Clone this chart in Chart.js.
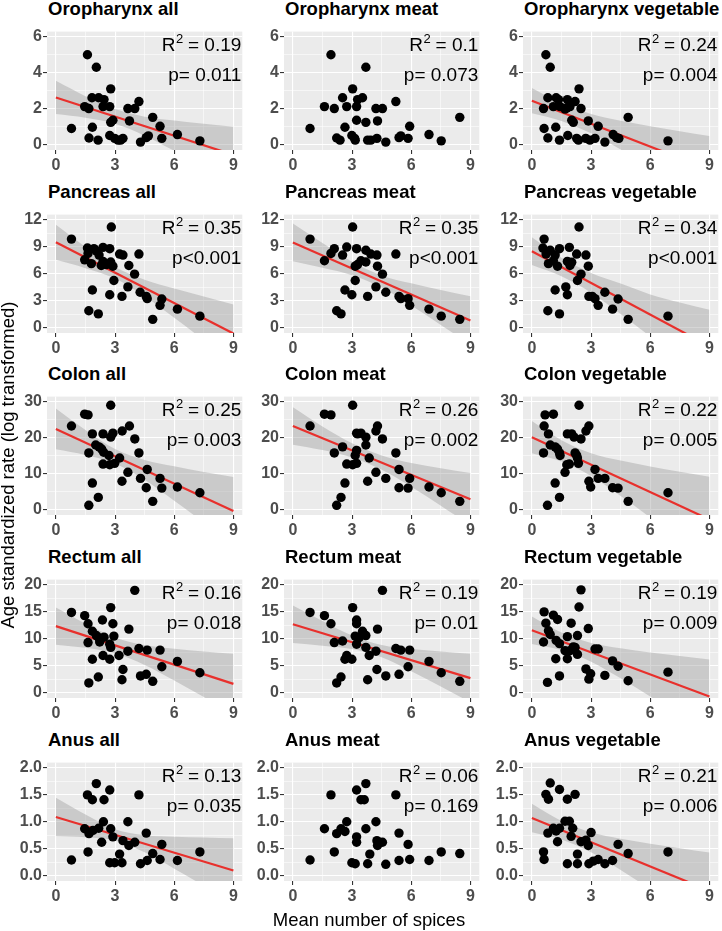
<!DOCTYPE html>
<html><head><meta charset="utf-8">
<script src="https://cdn.jsdelivr.net/npm/chart.js@4.4.0/dist/chart.umd.min.js"></script>
<style>
html,body{margin:0;padding:0;background:#fff;}
#wrap{position:relative;width:722px;height:931px;overflow:hidden;font-family:"Liberation Sans",Arial,sans-serif;}
canvas{position:absolute;}
.ttl{position:absolute;font-weight:bold;font-size:18.5px;line-height:22px;color:#000;white-space:nowrap;}
.axt{position:absolute;font-size:18.5px;line-height:22px;color:#000;white-space:nowrap;text-align:center;}
</style></head><body><div id="wrap"></div>
<script>
// ---------- categories / labels ----------
const cancers = ['Oropharynx','Pancreas','Colon','Rectum','Anus'];
const groups = ['all','meat','vegetable'];
const r2Labels = ['0.19','0.1','0.24','0.35','0.35','0.34','0.25','0.26','0.22','0.16','0.19','0.19','0.13','0.06','0.21'];
const pLabels = ['p= 0.011','p= 0.073','p= 0.004','p<0.001','p<0.001','p<0.001','p= 0.003','p= 0.002','p= 0.005','p= 0.018','p= 0.01','p= 0.009','p= 0.035','p= 0.169','p= 0.006'];
const xTitle = 'Mean number of spices';
const yTitle = 'Age standardized rate (log transformed)';

// ---------- tick labels ----------
const xMajor = [0,3,6,9];           const xMinor = [1.5,4.5,7.5];
const yMajorOro = [0,2,4,6];        const yMinorOro = [1,3,5];
const yMajorPanc = [0,3,6,9,12];    const yMinorPanc = [1.5,4.5,7.5,10.5];
const yMajorColon = [0,10,20,30];   const yMinorColon = [5,15,25];
const yMajorRect = [0,5,10,15,20];  const yMinorRect = [2.5,7.5,12.5,17.5];
const yMajorAnus = [0,0.5,1,1.5,2]; const yMinorAnus = [0.25,0.75,1.25,1.75];

// ---------- scatter points [spices, rate] ----------
const oroAll = [[1.60,5.01],[2.05,4.31],[2.78,3.11],[1.83,2.61],[2.17,2.61],[2.44,2.51],[1.46,2.12],[1.67,2.01],[2.39,2.12],[2.73,2.12],[3.65,2.01],[4.00,2.01],[4.21,2.40],[2.89,1.36],[2.78,1.24],[3.73,1.32],[4.91,1.52],[5.28,1.02],[0.79,0.90],[1.85,0.97],[6.16,0.56],[7.30,0.21],[1.68,0.37],[2.14,0.25],[2.73,0.51],[2.98,0.35],[3.15,0.25],[3.28,0.25],[3.40,0.35],[4.29,0.14],[4.58,0.39],[4.69,0.49],[5.37,0.35]];
const oroMeat = [[1.93,5.01],[3.70,4.31],[3.03,3.11],[2.52,2.61],[3.53,2.61],[3.28,2.51],[1.60,2.12],[2.10,2.01],[2.73,2.12],[3.23,2.12],[4.21,2.01],[4.54,2.01],[5.22,2.40],[3.23,1.36],[3.70,1.24],[4.29,1.32],[8.46,1.52],[5.92,1.02],[0.87,0.90],[2.64,0.97],[6.90,0.56],[7.52,0.21],[2.22,0.37],[2.39,0.25],[2.99,0.51],[3.13,0.35],[3.16,0.25],[3.79,0.25],[3.95,0.25],[4.26,0.35],[4.71,0.14],[5.38,0.39],[5.47,0.49],[5.84,0.35]];
const oroVeg = [[0.71,5.01],[0.93,4.31],[2.39,3.11],[0.81,2.61],[1.23,2.61],[1.35,2.51],[1.80,2.51],[2.19,2.40],[0.59,2.01],[1.09,2.12],[1.43,2.12],[1.77,2.05],[1.93,2.12],[1.68,1.98],[2.49,2.01],[2.02,1.36],[2.10,1.24],[2.86,1.32],[4.88,1.52],[3.36,1.02],[0.62,0.90],[1.21,0.97],[4.12,0.56],[6.90,0.21],[0.81,0.37],[1.40,0.25],[1.82,0.51],[2.27,0.35],[2.36,0.25],[2.73,0.35],[2.94,0.25],[3.20,0.35],[3.70,0.14],[4.29,0.39],[4.41,0.35]];
const pancAll = [[2.81,11.22],[0.79,9.87],[1.60,8.87],[1.63,8.27],[2.05,8.56],[2.39,8.95],[2.73,8.80],[2.19,8.09],[1.46,7.56],[1.80,7.13],[2.39,7.38],[2.30,6.92],[2.78,7.31],[2.89,6.85],[3.23,8.20],[3.40,8.09],[4.21,8.20],[3.70,6.92],[3.99,5.96],[2.94,5.25],[3.65,4.54],[1.85,4.19],[4.27,3.94],[4.58,3.48],[4.63,3.23],[2.73,3.66],[3.35,3.48],[5.37,3.19],[5.28,2.48],[6.16,2.06],[1.67,1.88],[2.15,1.53],[4.91,0.92],[7.30,1.28],[2.56,7.03],[1.93,8.80]];
const pancMeat = [[3.03,11.22],[0.87,9.87],[2.10,8.80],[2.73,8.98],[3.23,8.80],[3.70,8.63],[1.93,8.27],[2.52,8.09],[3.95,8.20],[4.26,8.09],[5.22,8.20],[1.60,7.45],[3.45,7.45],[3.70,7.31],[3.28,7.03],[3.16,6.85],[4.29,6.85],[4.54,5.96],[3.16,5.25],[4.21,4.54],[2.64,4.19],[4.71,3.94],[2.99,3.66],[3.79,3.48],[5.38,3.48],[5.47,3.23],[5.84,3.23],[5.92,2.48],[6.90,2.06],[7.52,1.28],[8.46,0.92],[2.22,1.88],[2.44,1.53]];
const pancVeg = [[2.39,11.22],[0.62,9.87],[0.56,8.87],[0.93,8.63],[1.40,8.80],[1.90,8.95],[2.27,8.20],[2.74,8.09],[0.72,8.20],[1.18,8.09],[0.84,7.13],[1.09,7.45],[1.80,7.38],[2.02,7.28],[1.93,6.92],[1.30,6.85],[2.86,6.85],[2.49,5.96],[2.31,5.25],[1.72,4.54],[1.18,4.19],[1.80,3.66],[3.70,3.94],[4.37,3.19],[2.89,3.48],[3.06,3.48],[3.20,3.23],[3.36,2.48],[4.09,2.06],[0.81,1.88],[1.40,1.53],[4.88,0.92],[6.90,1.28]];
const colonAll = [[2.78,29.1],[1.46,26.6],[1.63,26.4],[0.79,23.3],[3.73,23.3],[3.36,21.9],[2.89,21.3],[2.39,21.1],[1.85,21.1],[2.78,20.2],[4.00,19.7],[2.02,18.0],[2.19,17.5],[2.32,16.9],[1.67,15.8],[2.42,16.0],[4.21,15.8],[2.69,15.1],[3.23,14.4],[2.39,12.7],[2.73,12.5],[2.98,12.9],[3.65,10.4],[4.63,11.2],[4.29,8.7],[5.28,8.7],[3.35,7.9],[1.85,7.4],[4.58,6.1],[5.37,6.0],[6.16,6.3],[7.30,4.7],[2.15,3.4],[1.67,1.2],[4.91,2.3]];
const colonMeat = [[3.03,29.1],[0.87,23.3],[1.60,26.6],[1.93,26.4],[4.29,23.3],[4.21,21.9],[3.23,21.3],[3.45,21.3],[3.28,21.1],[3.70,20.2],[4.54,19.7],[3.70,18.0],[2.52,17.5],[3.23,16.5],[2.10,15.8],[5.22,15.8],[3.16,15.1],[3.87,14.4],[2.73,12.7],[3.03,12.5],[3.23,12.9],[4.21,10.4],[5.38,11.2],[4.71,8.7],[5.92,8.7],[3.79,7.9],[2.64,7.4],[5.38,6.1],[5.84,6.0],[6.90,6.3],[7.52,4.7],[2.44,3.4],[2.22,1.2],[8.46,2.3]];
const colonVeg = [[2.39,29.1],[0.67,26.4],[1.09,26.6],[0.62,23.3],[2.89,23.3],[2.74,21.9],[1.80,21.1],[2.02,21.1],[0.84,21.1],[2.14,20.2],[2.49,19.7],[0.93,18.0],[1.18,17.5],[1.30,16.9],[0.59,15.8],[1.40,15.8],[2.19,15.8],[2.27,15.1],[1.43,15.1],[2.31,14.4],[1.90,12.7],[1.77,12.5],[2.36,12.9],[1.68,10.4],[3.20,11.2],[3.36,8.7],[3.70,8.7],[2.89,7.9],[1.18,7.4],[4.09,6.1],[4.37,6.0],[2.98,6.3],[6.90,4.7],[1.40,3.4],[0.79,1.2],[4.88,2.3]];
const rectAll = [[4.00,19.0],[0.79,14.9],[1.46,14.3],[2.78,15.8],[1.63,12.8],[2.36,13.5],[2.89,12.8],[3.70,11.8],[1.85,11.4],[2.05,10.6],[2.17,10.2],[2.44,10.3],[2.94,10.5],[1.63,9.3],[2.22,9.4],[2.73,9.0],[2.78,8.4],[4.21,8.2],[4.63,7.9],[5.28,7.9],[3.65,7.7],[3.20,6.9],[2.39,6.9],[1.85,6.2],[2.73,6.2],[6.16,5.8],[5.37,4.8],[3.40,4.3],[7.30,3.7],[4.29,3.1],[4.58,3.4],[2.15,2.9],[3.35,2.4],[4.91,2.1],[1.67,1.8]];
const rectMeat = [[4.54,19.0],[0.87,14.9],[1.60,14.3],[3.03,15.8],[1.93,12.8],[3.23,13.5],[3.23,12.8],[4.29,11.8],[3.53,11.4],[3.70,10.6],[3.16,10.5],[3.36,10.2],[2.52,9.6],[2.10,9.3],[3.23,9.0],[3.70,8.4],[4.21,7.7],[5.22,8.2],[5.47,7.9],[5.92,7.9],[3.87,6.9],[2.73,6.9],[2.64,6.2],[2.99,6.2],[6.90,5.8],[5.84,4.8],[4.26,4.3],[7.52,3.7],[5.38,3.4],[4.71,3.1],[2.44,2.9],[3.79,2.4],[8.46,2.1],[2.22,1.8]];
const rectVeg = [[2.49,19.1],[2.39,15.9],[0.62,15.0],[1.09,14.4],[0.71,12.9],[1.99,12.9],[1.30,13.6],[2.86,11.9],[0.84,11.5],[0.93,10.8],[1.80,10.4],[2.31,10.6],[1.23,9.7],[0.59,9.4],[1.40,9.1],[2.10,8.5],[2.19,8.4],[3.20,8.1],[3.36,8.1],[1.68,7.8],[2.31,7.1],[1.93,7.8],[1.21,6.3],[1.80,6.3],[4.09,5.9],[4.37,4.9],[2.74,4.4],[6.90,3.8],[2.98,3.5],[3.70,3.2],[1.40,3.1],[2.89,2.5],[4.88,2.2],[0.79,1.9]];
const anusAll = [[2.05,1.71],[1.60,1.50],[1.85,1.41],[2.73,1.59],[2.44,1.41],[4.21,1.50],[2.41,1.00],[3.65,1.00],[1.46,0.87],[1.68,0.78],[1.88,0.84],[2.17,0.88],[2.78,0.87],[2.89,0.72],[3.40,0.65],[3.70,0.56],[4.00,0.62],[4.58,0.79],[2.32,0.62],[1.63,0.44],[0.79,0.29],[3.23,0.40],[4.91,0.41],[5.37,0.58],[5.28,0.30],[6.16,0.28],[7.30,0.44],[2.73,0.24],[2.98,0.24],[3.35,0.24],[4.29,0.22],[4.63,0.28]];
const anusMeat = [[3.70,1.71],[1.93,1.50],[3.23,1.59],[3.45,1.41],[3.62,1.41],[5.22,1.50],[2.73,1.00],[4.21,1.00],[1.60,0.87],[2.22,0.78],[2.44,0.87],[2.64,0.82],[3.23,0.72],[3.70,0.87],[4.26,0.65],[4.29,0.56],[4.54,0.62],[5.38,0.79],[3.23,0.62],[2.10,0.44],[0.87,0.29],[3.90,0.40],[5.84,0.58],[5.92,0.30],[6.90,0.28],[7.52,0.44],[8.46,0.41],[2.99,0.24],[3.16,0.22],[3.79,0.22],[4.71,0.21],[5.38,0.28]];
const anusVeg = [[0.93,1.72],[0.71,1.51],[0.84,1.42],[1.40,1.60],[1.80,1.42],[2.19,1.51],[1.68,1.01],[1.90,1.01],[1.09,0.88],[1.40,0.88],[1.23,0.83],[0.81,0.79],[2.07,0.88],[1.99,0.73],[1.30,0.63],[2.49,0.63],[2.74,0.66],[2.86,0.56],[3.00,0.80],[4.37,0.58],[4.88,0.41],[6.90,0.44],[0.59,0.44],[0.62,0.30],[2.31,0.40],[1.80,0.22],[2.31,0.22],[2.89,0.22],[3.11,0.27],[3.36,0.30],[3.70,0.22],[4.09,0.28]];

// ---------- fitted lines: rate at spices = 0 and spices = 9 ----------
const fitX = [0,9];
const oroAllFit = [2.63,-0.57];
const oroVegFit = [2.45,-1.39];
const pancAllFit = [9.51,-0.66];
const pancMeatFit = [9.5,0.8];
const pancVegFit = [8.52,-2.08];
const colonAllFit = [22.5,-0.36];
const colonMeatFit = [23.3,2.9];
const colonVegFit = [20.2,-2.75];
const rectAllFit = [12.35,1.63];
const rectMeatFit = [12.7,2.7];
const rectVegFit = [11.6,-0.73];
const anusAllFit = [1.09,0.094];
const anusVegFit = [1.07,-0.28];

// ---------- confidence bands (read at bandX) ----------
const bandX = [0,1.5,3,4.5,6,7.5,9];
const oroAllLo = [1.70,1.50,1.16,0.50,-0.34,-1.22,-2.14];    const oroAllHi = [3.56,2.70,1.98,1.56,1.34,1.16,1.00];
const oroVegLo = [1.75,1.32,0.63,-0.27,-1.25,-2.25,-3.26];   const oroVegHi = [3.15,2.30,1.71,1.33,1.03,0.75,0.48];
const pancAllLo = [7.56,6.63,5.47,3.50,1.10,-1.40,-3.91];    const pancAllHi = [11.46,8.99,6.77,5.34,4.36,3.46,2.59];
const pancMeatLo = [7.4,6.68,5.85,4.48,2.46,0.30,-1.9];      const pancMeatHi = [11.6,9.42,7.35,5.82,4.94,4.20,3.5];
const pancVegLo = [6.97,5.72,3.89,1.53,-0.99,-3.56,-6.15];   const pancVegHi = [10.07,7.78,6.09,4.91,3.70,2.80,1.99];
const colonAllLo = [16.8,15.2,12.87,8.32,2.46,-3.6,-9.8];    const colonAllHi = [28.2,22.2,16.89,13.82,12.06,10.5,9.1];
const colonMeatLo = [18.1,16.6,14.5,11.1,6.4,1.1,-4.4];      const colonMeatHi = [28.5,23.2,18.5,15.1,13.0,11.5,10.2];
const colonVegLo = [15.7,13.4,9.37,3.78,-2.2,-8.4,-14.65];   const colonVegHi = [24.7,19.35,15.73,13.66,12.0,10.55,9.15];
const rectAllLo = [8.9,8.32,7.3,5.15,2.26,-0.82,-3.97];      const rectAllHi = [15.8,12.8,10.26,8.83,8.14,7.66,7.23];
const rectMeatLo = [9.2,8.73,8.11,6.57,3.97,1.12,-1.8];      const rectMeatHi = [16.2,13.33,10.63,8.83,8.09,7.62,7.2];
const rectVegLo = [9.05,7.92,5.74,2.65,-0.71,-4.15,-7.63];   const rectVegHi = [14.15,11.18,9.24,8.23,7.47,6.81,6.17];
const anusAllLo = [0.735,0.714,0.653,0.432,0.128,-0.188,-0.506]; const anusAllHi = [1.445,1.134,0.863,0.752,0.724,0.708,0.694];
const anusVegLo = [0.805,0.673,0.435,0.106,-0.252,-0.619,-0.99]; const anusVegHi = [1.335,1.017,0.805,0.684,0.592,0.509,0.43];

// ---------- assemble ----------
const rowAxes = [
  {min:-0.3, max:6.3,  major:yMajorOro,   minor:yMinorOro,   dec:0},
  {min:-0.6, max:12.6, major:yMajorPanc,  minor:yMinorPanc,  dec:0},
  {min:-1.5, max:31.5, major:yMajorColon, minor:yMinorColon, dec:0},
  {min:-1,   max:21,   major:yMajorRect,  minor:yMinorRect,  dec:0},
  {min:-0.1, max:2.1,  major:yMajorAnus,  minor:yMinorAnus,  dec:1}
];
const panelData = [
  [oroAll, oroAllFit, oroAllLo, oroAllHi], [oroMeat, null, null, null], [oroVeg, oroVegFit, oroVegLo, oroVegHi],
  [pancAll, pancAllFit, pancAllLo, pancAllHi], [pancMeat, pancMeatFit, pancMeatLo, pancMeatHi], [pancVeg, pancVegFit, pancVegLo, pancVegHi],
  [colonAll, colonAllFit, colonAllLo, colonAllHi], [colonMeat, colonMeatFit, colonMeatLo, colonMeatHi], [colonVeg, colonVegFit, colonVegLo, colonVegHi],
  [rectAll, rectAllFit, rectAllLo, rectAllHi], [rectMeat, rectMeatFit, rectMeatLo, rectMeatHi], [rectVeg, rectVegFit, rectVegLo, rectVegHi],
  [anusAll, anusAllFit, anusAllLo, anusAllHi], [anusMeat, null, null, null], [anusVeg, anusVegFit, anusVegLo, anusVegHi]
];

const colLeft = [47, 284, 523];
const rowTop = [25, 208, 390, 573, 756];
const PW = 196, PH = 125;
const PADL = 44, PADT = 4, PADR = 4, PADB = 26;
const FONT = '"Liberation Sans", Arial, sans-serif';

const wrap = document.getElementById('wrap');

const panelDecor = {
  id: 'panelDecor',
  beforeDraw(chart) {
    const a = chart.chartArea, c = chart.ctx;
    c.save(); c.fillStyle = '#EBEBEB';
    c.fillRect(a.left, a.top, a.right - a.left, a.bottom - a.top);
    c.restore();
  },
  afterDatasetsDraw(chart, args, opts) {
    const a = chart.chartArea, c = chart.ctx;
    const right = a.right - 1;
    c.save();
    c.fillStyle = '#000';
    c.textBaseline = 'alphabetic';
    c.textAlign = 'left';
    c.font = '19px ' + FONT;
    const wR = c.measureText('R').width;
    const rest = ' = ' + opts.r2;
    const wRest = c.measureText(rest).width;
    c.font = '13px ' + FONT;
    const w2 = c.measureText('2').width;
    const x0 = right - (wR + w2 + wRest);
    const b1 = a.top + 19;
    c.font = '19px ' + FONT;
    c.fillText('R', x0, b1);
    c.font = '13px ' + FONT;
    c.fillText('2', x0 + wR + 0.5, b1 - 7.5);
    c.font = '19px ' + FONT;
    c.fillText(rest, x0 + wR + w2, b1);
    c.textAlign = 'right';
    c.fillText(opts.p, right, a.top + 49);
    c.restore();
  }
};

function axisCfg(isX, min, max, major, minor, dec) {
  const all = [...major, ...minor].sort((p, q) => p - q);
  const isMaj = v => major.indexOf(v) !== -1;
  return {
    type: 'linear', position: isX ? 'bottom' : 'left', min, max, bounds: 'data',
    afterBuildTicks: s => { s.ticks = all.map(v => ({value: v})); },
    afterFit: s => { if (isX) s.height = PADB; else s.width = PADL; },
    ticks: {
      autoSkip: false, maxRotation: 0, minRotation: 0, padding: isX ? 2 : 1,
      color: '#4D4D4D', font: {family: FONT, size: 16, weight: 'bold'},
      callback: v => isMaj(v) ? v.toFixed(dec) : ''
    },
    grid: {
      color: '#FFFFFF',
      lineWidth: ctx => (ctx.tick && isMaj(ctx.tick.value)) ? 1.1 : 0.55,
      tickColor: ctx => (ctx.tick && isMaj(ctx.tick.value)) ? '#333333' : 'rgba(0,0,0,0)',
      tickLength: 4, drawTicks: true, drawOnChartArea: true
    },
    border: {display: false}
  };
}

const toXY = arr => arr.map(([x, y]) => ({x, y}));
const zipXY = (xs, ys) => xs.map((x, i) => ({x, y: ys[i]}));

for (let r = 0; r < 5; r++) {
  for (let c = 0; c < 3; c++) {
    const idx = r * 3 + c;
    const [pts, fit, lo, hi] = panelData[idx];
    const ax = rowAxes[r];
    const L = colLeft[c], T = rowTop[r];

    const title = document.createElement('div');
    title.className = 'ttl';
    title.textContent = cancers[r] + ' ' + groups[c];
    title.style.left = (L + 1) + 'px';
    title.style.top = (T - 27.5) + 'px';
    wrap.appendChild(title);

    const cv = document.createElement('canvas');
    const W = PADL + PW + PADR, H = PADT + PH + PADB;
    cv.width = W; cv.height = H;
    cv.style.width = W + 'px'; cv.style.height = H + 'px';
    cv.style.left = (L - PADL) + 'px'; cv.style.top = (T - PADT) + 'px';
    wrap.appendChild(cv);

    const datasets = [];
    if (fit) {
      datasets.push({type: 'line', data: zipXY(bandX, lo), borderWidth: 0, borderColor: 'rgba(0,0,0,0)', pointRadius: 0, showLine: true, fill: false, cubicInterpolationMode: 'monotone', order: 5});
      datasets.push({type: 'line', data: zipXY(bandX, hi), borderWidth: 0, borderColor: 'rgba(0,0,0,0)', pointRadius: 0, showLine: true, fill: '-1', backgroundColor: 'rgba(153,153,153,0.4)', cubicInterpolationMode: 'monotone', order: 4});
      datasets.push({type: 'line', data: zipXY(fitX, fit), borderWidth: 2.2, borderColor: '#E8302C', pointRadius: 0, showLine: true, fill: false, order: 2});
    }
    datasets.push({type: 'scatter', data: toXY(pts), pointRadius: 4.7, pointBackgroundColor: '#000', pointBorderWidth: 0, pointBorderColor: '#000', showLine: false, order: 1});

    new Chart(cv, {
      type: 'scatter',
      data: {datasets},
      options: {
        responsive: false, animation: false, devicePixelRatio: 1,
        layout: {padding: {left: 0, top: PADT, right: PADR, bottom: 0}},
        scales: {
          x: axisCfg(true, -0.45, 9.45, xMajor, xMinor, 0),
          y: axisCfg(false, ax.min, ax.max, ax.major, ax.minor, ax.dec)
        },
        plugins: {
          legend: {display: false}, tooltip: {enabled: false},
          panelDecor: {r2: r2Labels[idx], p: pLabels[idx]}
        }
      },
      plugins: [panelDecor]
    });
  }
}

const xt = document.createElement('div');
xt.className = 'axt';
xt.textContent = xTitle;
xt.style.left = (369 - 150) + 'px'; xt.style.width = '300px'; xt.style.top = '908.5px';
wrap.appendChild(xt);

const yt = document.createElement('div');
yt.className = 'axt';
yt.textContent = yTitle;
yt.style.width = '420px'; yt.style.left = (8 - 210) + 'px'; yt.style.top = (465 - 11) + 'px';
yt.style.transform = 'rotate(-90deg)';
yt.style.transformOrigin = '50% 50%';
wrap.appendChild(yt);
</script></body></html>
